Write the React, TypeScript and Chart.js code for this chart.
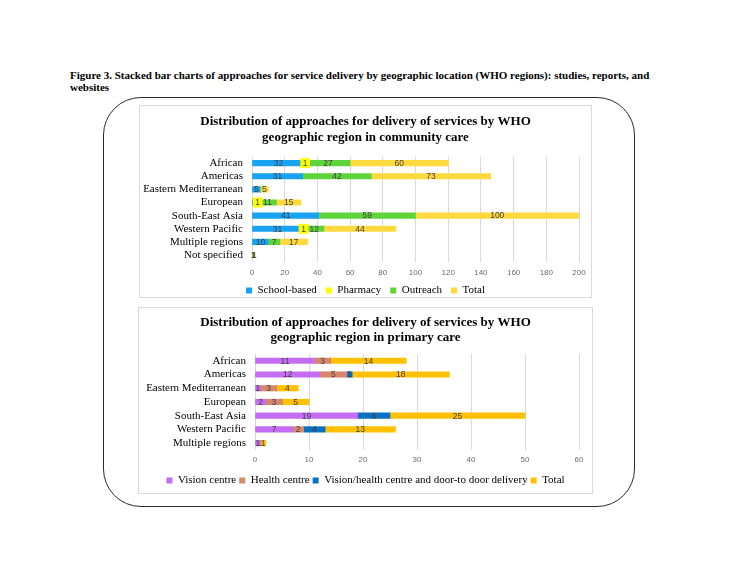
import React, { useEffect, useRef } from "react";
import { Chart, registerables } from "chart.js";

Chart.register(...registerables);

// ---------- Data: community care ----------
const communityRegions = [
  "African",
  "Americas",
  "Eastern Mediterranean",
  "European",
  "South-East Asia",
  "Western Pacific",
  "Multiple regions",
  "Not specified",
];
const schoolBased = [32, 31, 5, 3, 41, 31, 10, 0];
const pharmacy = [1, 0, 0, 1, 0, 1, 0, 0];
const outreach = [27, 42, 0, 11, 59, 12, 7, 1];
const communityTotal = [60, 73, 5, 15, 100, 44, 17, 1];
const communityAxis = { min: 0, max: 200, step: 20 };

// ---------- Data: primary care ----------
const primaryRegions = [
  "African",
  "Americas",
  "Eastern Mediterranean",
  "European",
  "South-East Asia",
  "Western Pacific",
  "Multiple regions",
];
const visionCentre = [11, 12, 1, 2, 19, 7, 1];
const healthCentre = [3, 5, 3, 3, 0, 2, 0];
const doorToDoor = [0, 1, 0, 0, 6, 4, 0];
const primaryTotal = [14, 18, 4, 5, 25, 13, 1];
const primaryAxis = { min: 0, max: 60, step: 10 };

const SERIF = "'Liberation Serif', 'Times New Roman', serif";
const SANS = "'Liberation Sans', Arial, sans-serif";
const EXT = 20; // extra canvas margin on each side so long labels are not clipped

const segLabels = {
  id: "segLabels",
  afterDatasetsDraw(chart: any) {
    const ctx = chart.ctx;
    ctx.save();
    ctx.font = `8.5px ${SANS}`;
    ctx.textAlign = "center";
    ctx.textBaseline = "middle";
    chart.data.datasets.forEach((ds: any, di: number) => {
      const meta = chart.getDatasetMeta(di);
      meta.data.forEach((el: any, i: number) => {
        const v = ds.data[i];
        if (!v) return;
        const p = el.getCenterPoint();
        const txt = String(v);
        if (ds.labelBg) {
          const w = ctx.measureText(txt).width + 5;
          ctx.fillStyle = ds.labelBg;
          ctx.fillRect(p.x - w / 2, p.y - 5, w, 10);
        }
        ctx.fillStyle = "#404040";
        ctx.fillText(txt, p.x, p.y + 0.5);
      });
    });
    ctx.restore();
  },
};

type Cfg = {
  labels: string[];
  datasets: any[];
  title: string[];
  axis: { min: number; max: number; step: number };
  padX: number;
  yWidth: number;
  xHeight: number;
  tickPad: number;
  titlePad: { top: number; bottom: number };
  titleLH: number;
  legendPad: number;
};

function makeConfig(c: Cfg): any {
  return {
    type: "bar",
    data: { labels: c.labels, datasets: c.datasets },
    plugins: [segLabels],
    options: {
      indexAxis: "y",
      animation: false,
      responsive: true,
      maintainAspectRatio: false,
      layout: { padding: { left: c.padX + EXT, right: c.padX + EXT, top: 0, bottom: 0 } },
      datasets: { bar: { barThickness: 5.5, borderWidth: 0 } },
      scales: {
        x: {
          stacked: true,
          min: c.axis.min,
          max: c.axis.max,
          ticks: {
            stepSize: c.axis.step,
            color: "#6b6b6b",
            font: { family: SANS, size: 8 },
            padding: c.tickPad,
          },
          grid: { color: "#d9d9d9", lineWidth: 1, drawTicks: false },
          border: { display: false },
          afterFit: (s: any) => {
            s.height = c.xHeight;
          },
        },
        y: {
          stacked: true,
          ticks: {
            color: "#000",
            font: { family: SERIF, size: 11 },
            padding: 9,
            autoSkip: false,
          },
          grid: { display: false, drawTicks: false },
          border: { display: false },
          afterFit: (s: any) => {
            s.width = c.yWidth;
            // let long category labels run past the axis box (no clipping)
            s._computeLabelArea = () => undefined;
          },
        },
      },
      plugins: {
        tooltip: { enabled: false },
        title: {
          display: true,
          text: c.title,
          color: "#000",
          font: { family: SERIF, size: 13, weight: "bold", lineHeight: c.titleLH },
          padding: c.titlePad,
        },
        legend: {
          position: "bottom",
          labels: {
            boxWidth: 6,
            boxHeight: 6,
            padding: c.legendPad,
            color: "#000",
            font: { family: SERIF, size: 11 },
          },
        },
      },
    },
  };
}

function ChartBox({ config }: { config: any }) {
  const ref = useRef<HTMLCanvasElement | null>(null);
  useEffect(() => {
    if (!ref.current) return;
    const ch = new Chart(ref.current, config);
    return () => ch.destroy();
  }, [config]);
  return <canvas ref={ref} />;
}

const communityConfig = makeConfig({
  labels: communityRegions,
  datasets: [
    { label: "School-based", data: schoolBased, backgroundColor: "#18a2f2" },
    { label: "Pharmacy", data: pharmacy, backgroundColor: "#ffff00", labelBg: "#ffff00" },
    { label: "Outreach", data: outreach, backgroundColor: "#5fd43a" },
    { label: "Total", data: communityTotal, backgroundColor: "#ffd93d" },
  ],
  title: [
    "Distribution of approaches for delivery of services by WHO",
    "geographic region in community care",
  ],
  axis: communityAxis,
  padX: 13,
  yWidth: 100,
  xHeight: 14.4,
  tickPad: 6.6,
  titlePad: { top: 9, bottom: 11.3 },
  titleLH: 1.2,
  legendPad: 9,
});

const primaryConfig = makeConfig({
  labels: primaryRegions,
  datasets: [
    { label: "Vision centre", data: visionCentre, backgroundColor: "#c46cf2" },
    { label: "Health centre", data: healthCentre, backgroundColor: "#d9876c" },
    {
      label: "Vision/health centre and door-to door delivery",
      data: doorToDoor,
      backgroundColor: "#0a70c2",
    },
    { label: "Total", data: primaryTotal, backgroundColor: "#ffc000" },
  ],
  title: [
    "Distribution of approaches for delivery of services by WHO",
    "geographic region in primary care",
  ],
  axis: primaryAxis,
  padX: 14,
  yWidth: 103,
  xHeight: 22,
  tickPad: 5.2,
  titlePad: { top: 8.5, bottom: 8.5 },
  titleLH: 1.15,
  legendPad: 3,
});

export default function App() {
  const abs = (l: number, t: number, w: number, h: number): React.CSSProperties => ({
    position: "absolute",
    left: l,
    top: t,
    width: w,
    height: h,
    boxSizing: "border-box",
  });
  return (
    <div style={{ position: "absolute", left: 0, top: 0, width: 733, height: 566, background: "#fff", overflow: "hidden" }}>
      <div
        style={{
          position: "absolute",
          left: 70,
          top: 69,
          fontFamily: SERIF,
          fontWeight: "bold",
          fontSize: 11,
          lineHeight: "12px",
          whiteSpace: "nowrap",
          color: "#000",
        }}
      >
        Figure 3. Stacked bar charts of approaches for service delivery by geographic location (WHO regions): studies, reports, and
        <br />
        websites
      </div>
      <div style={{ ...abs(103, 97, 532, 410), border: "1.5px solid #2a2a2a", borderRadius: 38 }} />
      <div style={{ ...abs(139, 105, 453, 193), border: "1px solid #d9d9d9", background: "#fff" }} />
      <div style={abs(139 - EXT, 105, 453 + 2 * EXT, 201)}>
        <ChartBox config={communityConfig} />
      </div>
      <div style={{ ...abs(138, 307, 455, 187), border: "1px solid #d9d9d9", background: "#fff" }} />
      <div style={abs(138 - EXT, 307, 455 + 2 * EXT, 189)}>
        <ChartBox config={primaryConfig} />
      </div>
    </div>
  );
}
